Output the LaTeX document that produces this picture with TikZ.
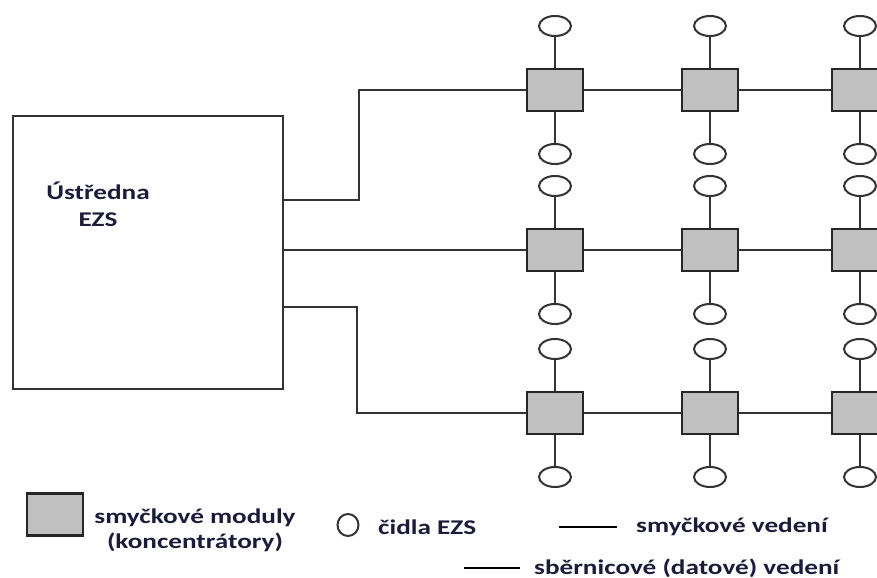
\documentclass[tikz,border=0pt]{standalone}
\usepackage{fontspec}
\newfontfamily\lblfont[FakeStretch=1.3]{Carlito}
\usetikzlibrary{shapes.geometric}
\definecolor{linegray}{HTML}{333333}
\definecolor{modfill}{HTML}{C0C0C0}
\definecolor{txtnavy}{HTML}{1C1C3A}
\tikzset{
  modul/.style={draw=black!85, line width=2.2bp, fill=modfill, minimum width=56bp, minimum height=42bp, inner sep=0},
  cidlo/.style={ellipse, draw=black!80, line width=2bp, fill=white, minimum width=32bp, minimum height=20bp, inner sep=0},
  vedeni/.style={draw=linegray, line width=2bp},
  popis/.style={font=\lblfont\bfseries\fontsize{21}{25}\selectfont, text=txtnavy, inner sep=0},
}
\begin{document}
\begin{tikzpicture}[x=1bp, y=-1bp]
  \useasboundingbox (0,0) rectangle (877,578);
  % ustredna
  \node[draw=linegray, line width=2bp, minimum width=270bp, minimum height=273bp, inner sep=0] (U) at (148,252.5) {};
  \node[popis, align=center] (Unazev) at (98,204) {Ústředna\\[2bp]EZS};

  % smyckove moduly a cidla
  \foreach \r/\y in {1/90,2/250,3/413} {
    \foreach \c/\x in {1/555,2/710,3/860} {
      \node[modul] (M\r\c) at (\x,\y) {};
      \node[cidlo] (H\r\c) at (\x,\y-64) {};
      \node[cidlo] (D\r\c) at (\x,\y+64) {};
      \draw[vedeni] (M\r\c) -- (H\r\c);
      \draw[vedeni] (M\r\c) -- (D\r\c);
    }
    \draw[vedeni] (M\r1) -- (M\r2);
    \draw[vedeni] (M\r2) -- (M\r3);
  }

  % vedeni z ustredny
  \coordinate (A1) at (283,200);
  \coordinate (B1) at (359,90);
  \coordinate (A3) at (283,307);
  \coordinate (B3) at (357,413);
  \draw[vedeni] (A1) -| (B1) -- (M11);
  \draw[vedeni] (U.east |- M21) -- (M21);
  \draw[vedeni] (A3) -| (B3) -- (M31);

  % legenda
  \node[modul] (Lmodul) at (55,514.5) {};
  \node[popis, align=center] (Lmodultxt) at (195,530) {smyčkové moduly\\(koncentrátory)};
  \node[cidlo, minimum width=21bp, minimum height=22bp] (Lcidlo) at (348,525) {};
  \node[popis, anchor=west] (Lcidlotxt) at (378,527) {čidla EZS};
  \coordinate (Ls1) at (559,527);
  \coordinate (Ls2) at (617,527);
  \draw[vedeni, line width=2.2bp, draw=black] (Ls1) -- (Ls2);
  \node[popis, anchor=west] (Lsmyc) at (636,527) {smyčkové vedení};
  \coordinate (Lb1) at (464,568);
  \coordinate (Lb2) at (520,568);
  \draw[vedeni, line width=2.2bp, draw=black] (Lb1) -- (Lb2);
  \node[popis, anchor=west] (Lsber) at (534,568) {sběrnicové (datové) vedení};
\end{tikzpicture}
\end{document}
